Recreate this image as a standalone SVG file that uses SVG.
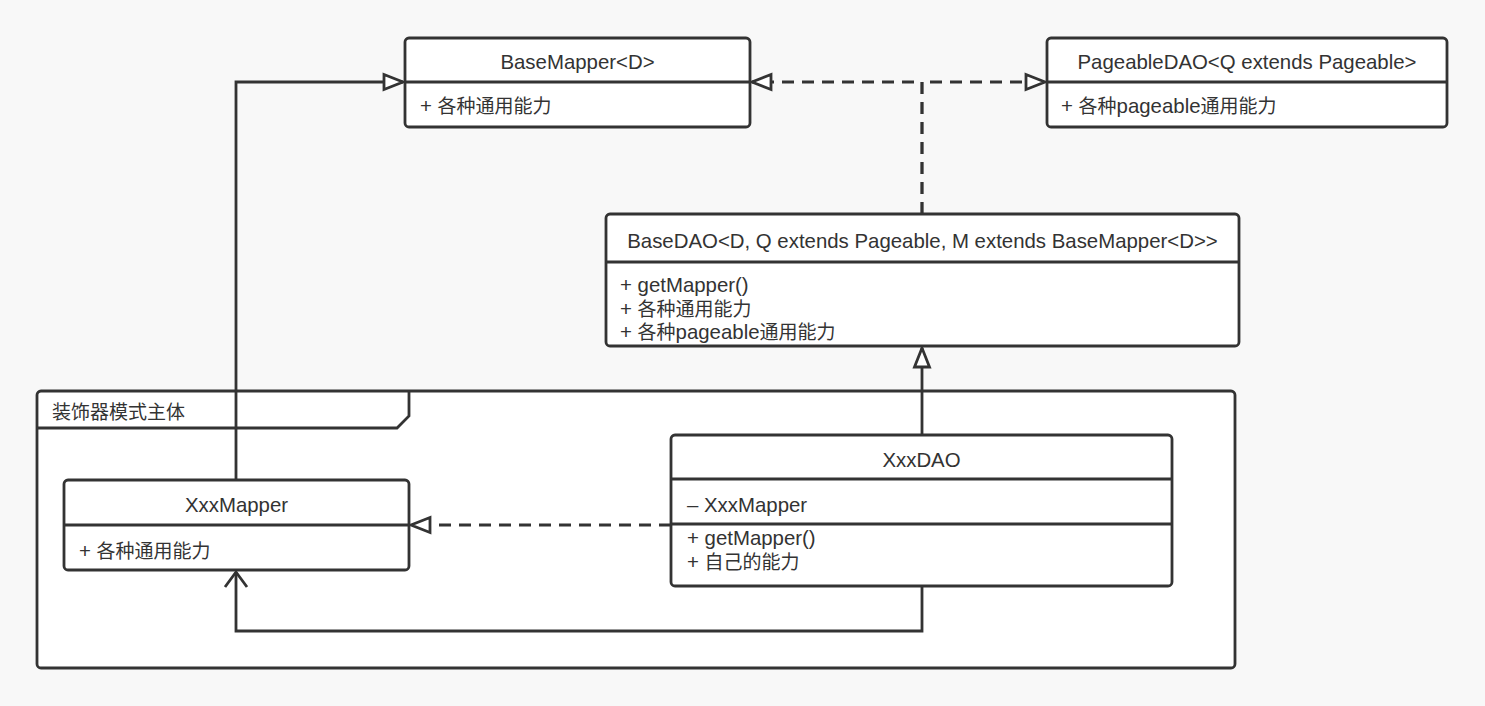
<svg xmlns="http://www.w3.org/2000/svg" width="1485" height="706" viewBox="0 0 1485 706">
<defs>
<style>
text{font-family:"Liberation Sans","Noto Sans CJK SC",sans-serif;font-size:20.4px;fill:#333}
.cj{font-family:"Noto Sans CJK SC",sans-serif;font-size:19px}
.box{fill:#fff;stroke:#333;stroke-width:2.8}
.div{stroke:#333;stroke-width:2.8;fill:none}
.ln{fill:none;stroke:#333;stroke-width:2.8}
.dash{stroke-dasharray:12 8}
.c{text-anchor:middle}
</style>
<marker id="tri" viewBox="-25 -15 30 30" refX="0" refY="0" markerWidth="30" markerHeight="30" markerUnits="userSpaceOnUse" orient="auto" overflow="visible">
<path d="M-19,-7.5 L0,0 L-19,7.5 Z" fill="#fff" stroke="#333" stroke-width="2.8" stroke-linejoin="miter"/>
</marker>
<marker id="open" viewBox="-25 -15 30 30" refX="0" refY="0" markerWidth="30" markerHeight="30" markerUnits="userSpaceOnUse" orient="auto" overflow="visible">
<path d="M-15,-11 L0,0 L-15,11" fill="none" stroke="#333" stroke-width="2.8"/>
</marker>
</defs>
<rect x="0" y="0" width="1485" height="706" fill="#f8f8f8"/>

<g id="frame">
<rect x="37" y="391" width="1198" height="277" rx="4" class="box"/>
<path d="M37,428 H397 L409,416 V391" class="div"/>
<text x="52" y="419"><tspan class="cj">装饰器模式主体</tspan></text>
</g>

<g id="connectors">
<path d="M236,480 V82 H403" class="ln" marker-end="url(#tri)"/>
<path d="M922,214 V82 H752" class="ln dash" marker-end="url(#tri)"/>
<path d="M922,214 V82 H1045" class="ln dash" marker-end="url(#tri)"/>
<path d="M922,434 V348" class="ln" marker-end="url(#tri)"/>
<path d="M671,525 H411" class="ln dash" marker-end="url(#tri)"/>
<path d="M922,586 V631 H236 V572" class="ln" marker-end="url(#open)"/>
</g>

<g id="BaseMapper">
<rect x="405" y="38" width="345" height="89" rx="4" class="box"/>
<line x1="405" y1="82" x2="750" y2="82" class="div"/>
<text x="577.5" y="69" class="c">BaseMapper&lt;D&gt;</text>
<text x="420" y="113">+ <tspan class="cj">各种通用能力</tspan></text>
</g>

<g id="PageableDAO">
<rect x="1047" y="38" width="400" height="89" rx="4" class="box"/>
<line x1="1047" y1="82" x2="1447" y2="82" class="div"/>
<text x="1247" y="69" class="c">PageableDAO&lt;Q extends Pageable&gt;</text>
<text x="1061" y="113">+ <tspan class="cj">各种</tspan>pageable<tspan class="cj">通用能力</tspan></text>
</g>

<g id="BaseDAO">
<rect x="606" y="214" width="633" height="132" rx="4" class="box"/>
<line x1="606" y1="262" x2="1239" y2="262" class="div"/>
<text x="922.5" y="248" class="c">BaseDAO&lt;D, Q extends Pageable, M extends BaseMapper&lt;D&gt;&gt;</text>
<text x="620" y="292">+ getMapper()</text>
<text x="620" y="315.5">+ <tspan class="cj">各种通用能力</tspan></text>
<text x="620" y="339">+ <tspan class="cj">各种</tspan>pageable<tspan class="cj">通用能力</tspan></text>
</g>

<g id="XxxMapper">
<rect x="64" y="480" width="345" height="90" rx="4" class="box"/>
<line x1="64" y1="525" x2="409" y2="525" class="div"/>
<text x="236.5" y="512" class="c">XxxMapper</text>
<text x="79" y="558">+ <tspan class="cj">各种通用能力</tspan></text>
</g>

<g id="XxxDAO">
<rect x="671" y="435" width="501" height="151" rx="4" class="box"/>
<line x1="671" y1="479" x2="1172" y2="479" class="div"/>
<line x1="671" y1="524" x2="1172" y2="524" class="div"/>
<text x="921.5" y="467" class="c">XxxDAO</text>
<text x="687" y="512">– XxxMapper</text>
<text x="687" y="545">+ getMapper()</text>
<text x="687" y="569">+ <tspan class="cj">自己的能力</tspan></text>
</g>
</svg>
